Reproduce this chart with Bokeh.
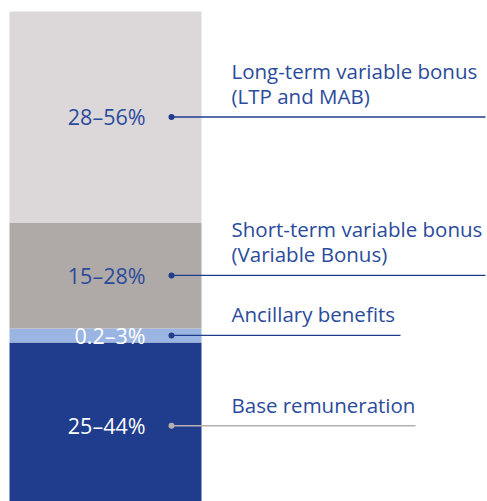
from bokeh.plotting import figure
from bokeh.models import Range1d, ColumnDataSource
from bokeh.core.properties import value
from bokeh.embed import file_html
from bokeh.resources import INLINE

# ---- data (bottom to top) ----
components = [
    "Base remuneration",
    "Ancillary benefits",
    "Short-term variable bonus\n(Variable Bonus)",
    "Long-term variable bonus\n(LTP and MAB)",
]
range_labels = ["25–44%", "0.2–3%", "15–28%", "28–56%"]
segment_sizes = [44, 3.7, 28, 55.7]  # stacked heights

# ---- styles ----
fill_colors = ["#1f3d8c", "#9ab5e1", "#afaaa7", "#dcd8d9"]
range_text_colors = ["#ffffff", "#ffffff", "#2b4b9b", "#2b4b9b"]
leader_colors = ["#b5b0ad", "#1f3d8c", "#1f3d8c", "#1f3d8c"]
leader_ends = [415, 400, 485, 485]
FONT = "Open Sans"
TEXT_BLUE = "#2b4b9b"

bottoms, tops, centers = [], [], []
acc = 0.0
for s in segment_sizes:
    bottoms.append(acc)
    tops.append(acc + s)
    centers.append(acc + s / 2)
    acc += s
total = acc

W, H = 487, 501
px_per_unit = 3.786
y_top = total + 11 / px_per_unit
y_bottom = y_top - H / px_per_unit

p = figure(width=W, height=H, output_backend="svg", toolbar_location=None,
           x_range=Range1d(0, W), y_range=Range1d(y_bottom, y_top),
           min_border=0, min_border_left=0, min_border_right=0,
           min_border_top=0, min_border_bottom=0)
p.outline_line_color = None
p.axis.visible = False
p.xgrid.visible = False
p.ygrid.visible = False
p.background_fill_color = "white"
p.border_fill_color = "white"

src = ColumnDataSource(dict(bottom=bottoms, top=tops, center=centers,
                            color=fill_colors, rl=range_labels,
                            rc=range_text_colors, lc=leader_colors,
                            le=leader_ends))

p.vbar(x=105, width=192, bottom="bottom", top="top", fill_color="color",
       line_color=None, source=src)

# leader lines and dots
p.segment(x0=171, x1="le", y0="center", y1="center", line_color="lc",
          line_width=1.4, source=src)
p.scatter(x=171, y="center", size=6, marker="circle", fill_color="lc",
          line_color=None, source=src)

# range labels inside bar
p.text(x=145, y="center", text="rl", text_color="rc",
       text_font=value(FONT), text_font_size="21.5px", text_align="right",
       text_baseline="middle", source=src)

# component labels (split into lines)
lx, ly, lt, lo = [], [], [], []
for comp, c in zip(components, centers):
    lines = comp.split("\n")
    n = len(lines)
    for k, t in enumerate(lines):
        lx.append(231)
        ly.append(c)
        lt.append(t)
        lo.append(-21 - 25 * (n - 1 - k))
p.text(x="x", y="y", text="t", y_offset="o",
       source=ColumnDataSource(dict(x=lx, y=ly, t=lt, o=lo)),
       text_color=TEXT_BLUE, text_font=value(FONT), text_font_size="20.5px",
       text_align="left", text_baseline="alphabetic")

open("out.html", "w").write(file_html(p, INLINE))
